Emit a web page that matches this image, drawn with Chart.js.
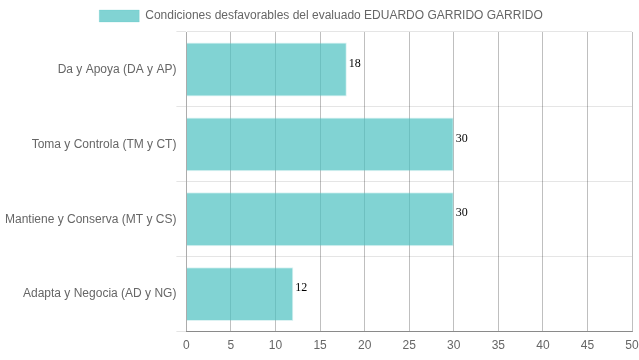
<!DOCTYPE html>
<html><head><meta charset="utf-8">
<script src="https://cdn.jsdelivr.net/npm/chart.js@4/dist/chart.umd.min.js"></script>
<style>html,body{margin:0;padding:0;background:#fff}#wrap{width:639px;height:360px}</style>
</head><body><div id="wrap"><canvas id="c"></canvas></div>
<script>
const categories = ["Da y Apoya (DA y AP)", "Toma y Controla (TM y CT)", "Mantiene y Conserva (MT y CS)", "Adapta y Negocia (AD y NG)"];
const values = [18, 30, 30, 12];
const seriesName = "Condiciones desfavorables del evaluado EDUARDO GARRIDO GARRIDO";

const valueLabels = {
  id: 'valueLabels',
  afterDatasetsDraw(chart) {
    const ctx = chart.ctx;
    const meta = chart.getDatasetMeta(0);
    ctx.save();
    ctx.font = '12px "Liberation Serif", serif';
    ctx.fillStyle = '#000';
    ctx.textAlign = 'left';
    ctx.textBaseline = 'middle';
    meta.data.forEach((bar, i) => {
      ctx.fillText(String(values[i]), bar.x + 2, bar.y - 6);
    });
    ctx.restore();
  }
};

Chart.defaults.font.family = '"Liberation Sans", Arial, sans-serif';
Chart.defaults.font.size = 12;
Chart.defaults.color = '#666';

new Chart(document.getElementById('c'), {
  type: 'bar',
  data: {
    labels: categories,
    datasets: [{
      label: seriesName,
      data: values,
      backgroundColor: 'rgba(75,192,192,0.7)',
      borderColor: 'rgba(75,192,192,0.2)',
      borderWidth: 1
    }]
  },
  options: {
    indexAxis: 'y',
    responsive: true,
    maintainAspectRatio: false,
    animation: false,
    layout: { padding: { right: 2, left: 5, top: 0, bottom: 0 } },
    plugins: {
      legend: {
        labels: { boxWidth: 40, boxHeight: 12, padding: 10, color: '#666' }
      },
      tooltip: { enabled: false }
    },
    scales: {
      x: {
        min: 0, max: 50,
        ticks: { stepSize: 5, color: '#666', padding: 7 },
        grid: { color: 'rgba(0,0,0,0.25)', drawTicks: false },
        border: { color: 'rgba(0,0,0,0.4)' },
        afterFit(scale) { scale.paddingRight = 7; }
      },
      y: {
        ticks: { color: '#666', padding: 0 },
        grid: { color: 'rgba(0,0,0,0.1)', tickLength: 10 },
        border: { color: 'rgba(0,0,0,0.1)' }
      }
    }
  },
  plugins: [valueLabels]
});
</script></body></html>
